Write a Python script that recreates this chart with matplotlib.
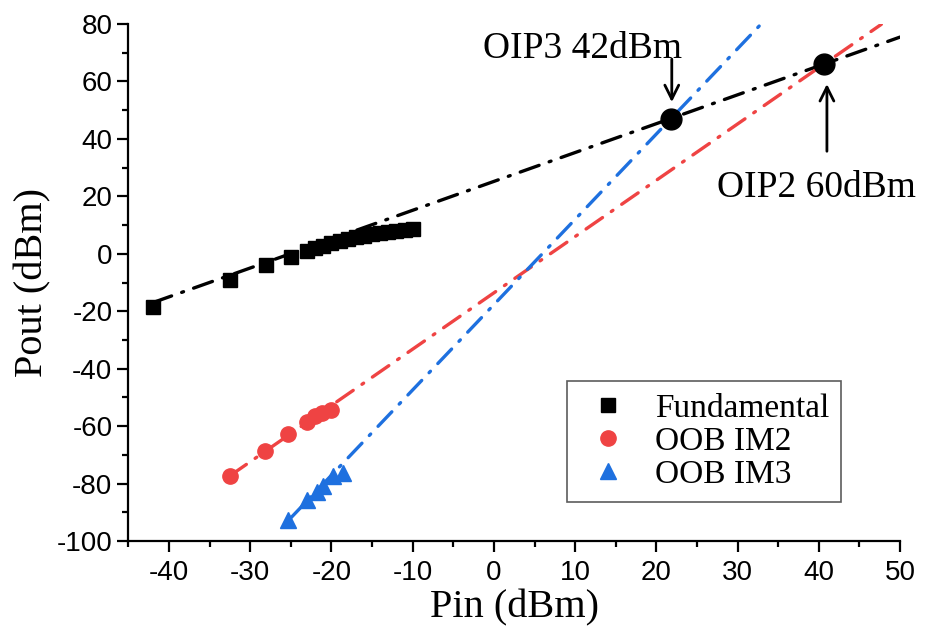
import matplotlib
matplotlib.use("Agg")
import matplotlib.pyplot as plt
import numpy as np

# ── measured points (Pin dBm, Pout dBm) ──────────────────────────────────────
fund_pin = [-42, -32.5, -28, -25, -23, -22, -21, -20, -19, -18, -17, -16,
            -15, -14, -13, -12, -11, -10]
fund_pout = [-18.5, -9, -4, -1, 1, 2, 2.8, 3.6, 4.4, 5.1, 5.7, 6.3,
             6.8, 7.3, 7.7, 8.1, 8.4, 8.6]

im2_pin = [-32.5, -28.2, -25.3, -23, -22, -21.2, -20]
im2_pout = [-77.3, -68.5, -62.8, -58.4, -56.4, -55.4, -54.3]

im3_pin = [-25.3, -23, -21.8, -21, -19.8, -18.6]
im3_pout = [-92.7, -85.7, -82.8, -81, -77.5, -76.3]

# ── linear fits: (slope, intercept, x start, x end) ──────────────────────────
fund_fit = (1.005, 25.2, -42, 50)
im2_fit = (1.96, -13.6, -32.5, 47.7)
im3_fit = (2.97, -17.7, -25.3, 32.9)

# intercept points
oip_pin = [21.83, 40.6]
oip_pout = [47.1, 66.0]

BLACK = "#000000"
RED = "#EF4343"
BLUE = "#1E70DF"

plt.rcParams["font.family"] = ["Liberation Sans", "DejaVu Sans"]
plt.rcParams["axes.unicode_minus"] = False
serif = ["Liberation Serif", "DejaVu Serif"]

fig = plt.figure(figsize=(9.25, 6.37), dpi=100)
ax = fig.add_axes([0.1388, 0.1507, 0.8342, 0.8116])

dash = (6, 3.2, 0.6, 3.2)
for (m, b, x0, x1), col in [(fund_fit, BLACK), (im2_fit, RED), (im3_fit, BLUE)]:
    xs = np.array([x0, x1])
    ln, = ax.plot(xs, m * xs + b, color=col, lw=2.4, dash_capstyle="round",
                  zorder=2)
    ln.set_dashes(dash)

ax.plot(fund_pin, fund_pout, "s", color=BLACK, ms=10, label="Fundamental",
        zorder=3)
ax.plot(im2_pin, im2_pout, "o", color=RED, ms=11, label="OOB IM2", zorder=3)
ax.plot(im3_pin, im3_pout, "^", color=BLUE, ms=11, label="OOB IM3", zorder=3)
ax.plot(oip_pin, oip_pout, "o", color=BLACK, ms=15, zorder=4)

arrow = dict(arrowstyle="->", color=BLACK, lw=2, mutation_scale=25,
             shrinkA=0, shrinkB=0)
ax.annotate("", xy=(21.9, 52.8), xytext=(21.9, 67.8), arrowprops=arrow)
ax.annotate("", xy=(41.0, 59.1), xytext=(41.0, 35.7), arrowprops=arrow)
ax.text(-1.35, 68.1, "OIP3 42dBm", family=serif, fontsize=27,
        ha="left", va="baseline")
ax.text(27.45, 19.7, "OIP2 60dBm", family=serif, fontsize=27,
        ha="left", va="baseline")

ax.set_xlim(-45, 50)
ax.set_ylim(-100, 80)
ax.set_xticks(np.arange(-40, 51, 10))
ax.set_xticks(np.arange(-45, 50, 10), minor=True)
ax.set_yticks(np.arange(-100, 81, 20))
ax.set_yticks(np.arange(-90, 80, 20), minor=True)
ax.spines[["top", "right"]].set_visible(False)
for s in ("left", "bottom"):
    ax.spines[s].set_linewidth(1.6)
ax.tick_params(which="major", direction="out", length=8, width=1.6,
               labelsize=20)
ax.tick_params(which="minor", direction="out", length=4.5, width=1.6)
ax.tick_params(axis="x", pad=6)

ax.set_xlabel("Pin (dBm)", family=serif, fontsize=29, labelpad=2)
ax.set_ylabel("Pout (dBm)", family=serif, fontsize=29, labelpad=4)

leg = ax.legend(loc="lower right", bbox_to_anchor=(0.945, 0.044),
                prop={"family": serif, "size": 24}, frameon=True,
                fancybox=False, edgecolor="#333333", borderpad=0.35,
                handletextpad=0.5, handlelength=1.8, labelspacing=0.08)
leg.get_frame().set_linewidth(1.2)

fig.savefig("out.png", dpi=100)
